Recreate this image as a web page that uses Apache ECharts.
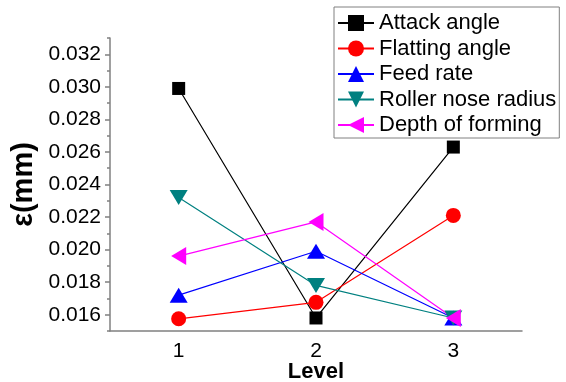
<!DOCTYPE html>
<html>
<head>
<meta charset="utf-8">
<script src="https://cdn.jsdelivr.net/npm/echarts@6/dist/echarts.min.js"></script>
<style>html,body{margin:0;padding:0;background:#fff;}#c{width:566px;height:382px;}</style>
</head>
<body>
<div id="c"></div>
<script>
var levels = ['1', '2', '3'];
var attackAngle = [0.0299, 0.0158, 0.0263];
var flattingAngle = [0.01575, 0.01676, 0.0221];
var feedRate = [0.0172, 0.0199, 0.0158];
var rollerNoseRadius = [0.0232, 0.0178, 0.0158];
var depthOfForming = [0.0196, 0.0217, 0.0158];
var yMajorTicks = [0.016, 0.018, 0.020, 0.022, 0.024, 0.026, 0.028, 0.030, 0.032];
var yMinorTicks = [0.015, 0.017, 0.019, 0.021, 0.023, 0.025, 0.027, 0.029, 0.031, 0.033];

var FONT = 'Liberation Sans, Arial, sans-serif';
var chart = echarts.init(document.getElementById('c'), null, {renderer: 'canvas'});

function mkSeries(name, data, color, symbol, size, rotate) {
  return {
    name: name, type: 'line', data: data,
    symbol: symbol, symbolSize: size, symbolRotate: rotate || 0,
    lineStyle: {color: color, width: 1.2},
    itemStyle: {color: color},
    animation: false
  };
}

chart.setOption({
  backgroundColor: '#ffffff',
  animation: false,
  grid: {left: 110, right: 44, top: 38, bottom: 51, containLabel: false, outerBoundsMode: 'none'},
  legend: {
    orient: 'vertical', left: 334, top: 7,
    padding: [5, 3, 2, 3],
    itemWidth: 36, itemHeight: 20, itemGap: 3.5,
    borderColor: '#808080', borderWidth: 1,
    textStyle: {fontFamily: FONT, fontSize: 22, color: '#000', lineHeight: 22},
    data: ['Attack angle', 'Flatting angle', 'Feed rate', 'Roller nose radius', 'Depth of forming']
  },
  xAxis: {
    type: 'category', data: levels, boundaryGap: true,
    name: 'Level', nameLocation: 'middle', nameGap: 30, nameMoveOverlap: false,
    nameTextStyle: {fontFamily: FONT, fontSize: 22, fontWeight: 'bold', color: '#000'},
    axisLine: {lineStyle: {color: '#808080', width: 1.5}},
    axisTick: {alignWithLabel: true, length: 5, inside: false, lineStyle: {color: '#808080', width: 1.5}},
    axisLabel: {fontFamily: FONT, fontSize: 21, color: '#000', margin: 10},
    splitLine: {show: false}
  },
  yAxis: [{
    type: 'value', min: 0.015, max: 0.033,
    name: 'ε(mm)', nameLocation: 'middle', nameGap: 72, nameRotate: 90, nameMoveOverlap: false,
    nameTextStyle: {fontFamily: FONT, fontSize: 29, fontWeight: 'bold', color: '#000'},
    axisLine: {show: true, lineStyle: {color: '#808080', width: 1.5}},
    axisTick: {show: true, length: 5, customValues: yMajorTicks, lineStyle: {color: '#808080', width: 1.5}},
    axisLabel: {fontFamily: FONT, fontSize: 21, color: '#000', margin: 9, customValues: yMajorTicks,
      formatter: function (v) { return v.toFixed(3); }},
    splitLine: {show: false}
  }, {
    type: 'value', min: 0.015, max: 0.033, position: 'left',
    axisLine: {show: false},
    axisTick: {show: true, length: 3, customValues: yMinorTicks, lineStyle: {color: '#808080', width: 1.5}},
    axisLabel: {show: false},
    splitLine: {show: false}
  }],
  series: [
    mkSeries('Attack angle', attackAngle, '#000000', 'rect', 13),
    mkSeries('Flatting angle', flattingAngle, '#ff0000', 'circle', 15),
    mkSeries('Feed rate', feedRate, '#0000ff', 'triangle', [18, 15]),
    mkSeries('Roller nose radius', rollerNoseRadius, '#008080', 'triangle', [18, 15], 180),
    mkSeries('Depth of forming', depthOfForming, '#ff00ff', 'triangle', [18, 15], 90)
  ]
});
</script>
</body>
</html>
